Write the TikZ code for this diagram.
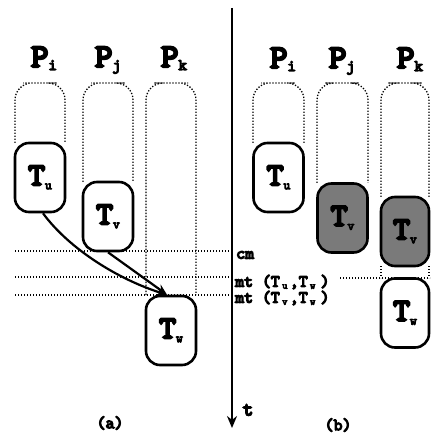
\documentclass[tikz,border=0pt]{standalone}
\usepackage{fontspec}
\newfontfamily\cb[FakeBold=7]{lmmono10-regular.otf}
\usetikzlibrary{arrows.meta,calc}
\newcommand\bigsub[1]{\raisebox{-3pt}{\fontsize{16}{16}\selectfont #1}}
\newcommand\boxsub[1]{\raisebox{-4pt}{\fontsize{13}{13}\selectfont #1}}
\newcommand\smsub[1]{\makebox[10pt][c]{\raisebox{-2pt}{\fontsize{10}{10}\selectfont #1}}}
\begin{document}
\begin{tikzpicture}[x=1pt,y=-1pt,
  col/.style={line width=1.3pt, dash pattern=on 1.3pt off 1.7pt, rounded corners=17pt},
  hline/.style={line width=1.3pt, dash pattern=on 1.3pt off 1.7pt},
  tbox/.style={draw, line width=2.6pt, rounded corners=14pt, fill=white, minimum width=50pt, minimum height=69pt, inner sep=0pt, font=\cb\fontsize{32}{32}\selectfont},
  gbox/.style={tbox, fill=black!52},
  plab/.style={font=\cb\fontsize{33}{33}\selectfont, anchor=base, inner sep=0pt},
  tlab/.style={font=\cb\fontsize{17}{17}\selectfont, anchor=west, inner sep=0pt},
  arr/.style={line width=2.2pt, -{Stealth[length=11pt,width=9pt]}}]
\useasboundingbox (0,0) rectangle (430,435);
% process labels
\node[plab] (Pia) at (44,67) {P\bigsub{i}};
\node[plab] (Pja) at (108,67) {P\bigsub{j}};
\node[plab] (Pka) at (174,67) {P\bigsub{k}};
\node[plab] (Pib) at (283,68) {P\bigsub{i}};
\node[plab] (Pjb) at (342,68) {P\bigsub{j}};
\node[plab] (Pkb) at (410,68) {P\bigsub{k}};
% columns (a)
\draw[col] (15,143) |- (40,83) -| (65,143);
\draw[col] (83,182) |- (108,83) -| (133,182);
\draw[col] (146,295) |- (171,83) -| (196,295);
% columns (b)
\draw[col] (253,143) |- (278,83) -| (304,143);
\draw[col] (317,183) |- (342,83) -| (368,183);
\draw[col] (381,197) |- (405,83) -| (429,197);
\draw[col] (381,266) -- (381,278);
\draw[col] (429,266) -- (429,278);
% time axis
\coordinate (ttop) at (232,8);
\coordinate (tbot) at (232,428);
\draw[line width=2.4pt,-{Stealth[length=12pt,width=10pt]}] (ttop) -- (tbot);
\node[font=\cb\fontsize{20}{20}\selectfont, inner sep=0pt] (t) at (248,410) {t};
% horizontal time lines
\coordinate (h1a) at (15,251); \coordinate (h1b) at (232,251);
\coordinate (h2a) at (15,277); \coordinate (h2b) at (232,277);
\coordinate (h3a) at (15,295); \coordinate (h3b) at (232,295);
\draw[hline] (h1a) -- (h1b);
\draw[hline] (h2a) -- (h2b);
\draw[hline] (h3a) -- (h3b);
\node[tlab] (cm) at (236,255) {cm};
\node[tlab] (mt1) at (235,282) {mt (T\smsub{u},T\smsub{w}\,)};
\node[tlab] (mt2) at (235,298) {mt (T\smsub{v},T\smsub{w}\,)};
\coordinate (h2m) at (340,278); \coordinate (h2r) at (430,278);
\draw[hline] (h2m) -- (h2r);
% boxes (a)
\node[tbox] (Tu) at (40,177.5) {T\boxsub{u}};
\node[tbox] (Tv) at (108,216.5) {T\boxsub{v}};
\node[tbox] (Tw) at (171,330.5) {T\boxsub{w}};
% boxes (b)
\node[tbox] (Tub) at (278.5,177.5) {T\boxsub{u}};
\node[gbox] (Tvb) at (342.5,218) {T\boxsub{v}};
\node[gbox, minimum width=48pt] (Tvk) at (405,231.5) {T\boxsub{v}};
\node[tbox, minimum width=48pt] (Twb) at (405,313) {T\boxsub{w}};
% arrows
\draw[arr] ($(Tu.south)+(3,0)$) .. controls (70,250) and (120,280) .. ($(Tw.north)+(-4,0)$);
\draw[arr] (Tv.south) -- ($(Tw.north)+(-4,0)$);
% captions
\node[font=\cb\fontsize{17}{17}\selectfont, inner sep=0pt] (capa) at (110,423) {(a)};
\node[font=\cb\fontsize{17}{17}\selectfont, inner sep=0pt] (capb) at (338,425) {(b)};
\end{tikzpicture}
\end{document}
